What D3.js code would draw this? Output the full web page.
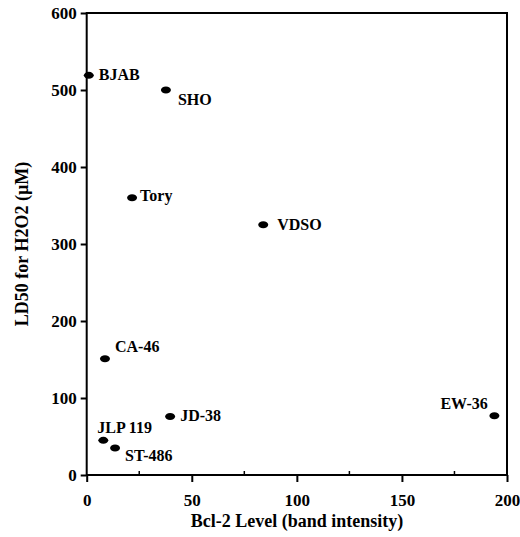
<!DOCTYPE html><html><head><script src="https://cdn.jsdelivr.net/npm/d3@7"></script>
<style>body{margin:0;background:#fff}</style></head><body><svg id="c" width="520" height="537"></svg>
<script>
const names=["BJAB","SHO","Tory","VDSO","CA-46","JD-38","EW-36","JLP 119","ST-486"];
const bcl2=[1,37.7,21.6,84,8.7,39.7,194,7.9,13.5];
const ld50=[519,500,360,325,151,76,77,45,35];
const labelDx=[10,12,8,14,10,10,-54,-6,10];
const labelDy=[0,10,-2,0,-12,0,-12,-12,8];
const xTicks=[0,50,100,150,200], yTicks=[0,100,200,300,400,500,600];
const svg=d3.select("#c");
const x=d3.scaleLinear().domain([0,200]).range([86.7,507]);
const y=d3.scaleLinear().domain([0,600]).range([475,13]);
const font="'Liberation Serif',serif";
svg.append("rect").attr("x",86.7).attr("y",13).attr("width",420.3).attr("height",462).attr("fill","none").attr("stroke","#000").attr("stroke-width",2);
const gx=svg.append("g").attr("transform","translate(0,475)").call(d3.axisBottom(x).tickValues(xTicks).tickSize(7).tickPadding(12));
const gy=svg.append("g").attr("transform","translate(86.7,0)").call(d3.axisLeft(y).tickValues(yTicks).tickSize(6).tickPadding(4));
[gx,gy].forEach(g=>{g.select(".domain").remove();g.selectAll("line").attr("stroke-width",2);g.selectAll("text").attr("font-family",font).attr("font-weight","bold").attr("font-size",17).attr("fill","#000");});
svg.append("g").selectAll("line").data([25,75,125,175]).join("line").attr("x1",d=>x(d)).attr("x2",d=>x(d)).attr("y1",475).attr("y2",471).attr("stroke","#000").attr("stroke-width",1.5);
const pts=svg.append("g");
names.forEach((n,i)=>{
 pts.append("ellipse").attr("cx",x(bcl2[i])).attr("cy",y(ld50[i])).attr("rx",5).attr("ry",3.5).attr("fill","#000");
 pts.append("text").attr("x",x(bcl2[i])+labelDx[i]).attr("y",y(ld50[i])+labelDy[i]+5).text(n).attr("font-family",font).attr("font-weight","bold").attr("font-size",16);
});
svg.append("text").attr("x",297).attr("y",527).attr("text-anchor","middle").text("Bcl-2 Level (band intensity)").attr("font-family",font).attr("font-weight","bold").attr("font-size",18);
svg.append("text").attr("transform","translate(28,244) rotate(-90)").attr("text-anchor","middle").text("LD50 for H2O2  (µM)").attr("font-family",font).attr("font-weight","bold").attr("font-size",18);
</script></body></html>
